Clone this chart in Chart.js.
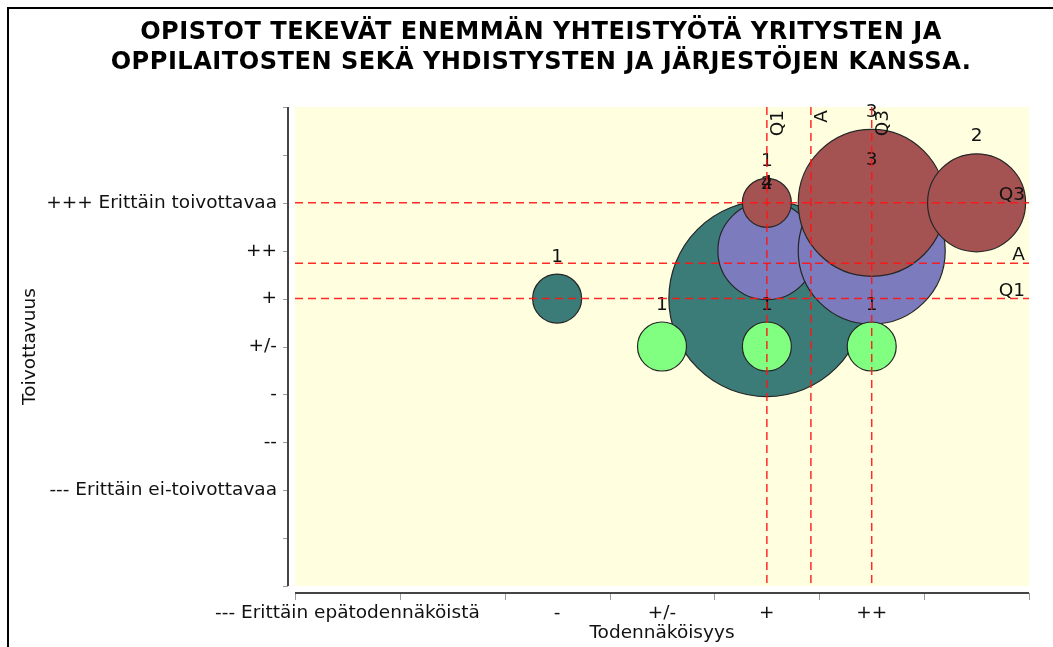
<!DOCTYPE html>
<html lang="fi">
<head>
<meta charset="utf-8">
<title>Opistot – yhteistyö</title>
<script src="https://cdn.jsdelivr.net/npm/chart.js@4/dist/chart.umd.min.js"></script>
<style>
  html, body { margin: 0; padding: 0; background: #fff; }
  #wrap { position: relative; width: 1053px; height: 647px; }
</style>
</head>
<body>
<div id="wrap"><canvas id="chart" width="1053" height="647"></canvas></div>
<script>
    "use strict";

    var titleLines = [
        'OPISTOT TEKEVÄT ENEMMÄN YHTEISTYÖTÄ YRITYSTEN JA',
        'OPPILAITOSTEN SEKÄ YHDISTYSTEN JA JÄRJESTÖJEN KANSSA.'
    ];
    var xTitle = 'Todennäköisyys';
    var yTitle = 'Toivottavuus';

    // tick labels for the levels 1..7 (blank where the picture shows none)
    var xTickLabels = ['--- Erittäin epätodennäköistä', '', '-', '+/-', '+', '++', ''];
    var yTickLabels = ['--- Erittäin ei-toivottavaa', '--', '-', '+/-', '+', '++', '+++ Erittäin toivottavaa'];

    // bubbles: level on each axis and number of answers
    var tealX = [3, 5];
    var tealY = [5, 5];
    var tealN = [1, 4];

    var purpleX = [5, 6];
    var purpleY = [6, 6];
    var purpleN = [2, 3];

    var redX = [5, 6, 7];
    var redY = [7, 7, 7];
    var redN = [1, 3, 2];

    var greenX = [4, 5, 6];
    var greenY = [4, 4, 4];
    var greenN = [1, 1, 1];

    // quartiles and average of both axes
    var markNames = ['Q1', 'A', 'Q3'];
    var markX = [5, 5.42, 6];
    var markY = [5, 5.74, 7];

    var RADIUS_PER_ANSWER = 24.5;
    var FONT = "'DejaVu Sans', 'Noto Sans', sans-serif";
    var TEXT_SIZE = 18.5;

    function points(xs, ys, ns) {
        return xs.map(function (x, i) {
            return {x: x, y: ys[i], n: ns[i]};
        });
    }

    // layer: higher numbers are drawn further down
    function bubbleSet(xs, ys, ns, color, layer) {
        return {
            data: points(xs, ys, ns),
            order: layer,
            backgroundColor: color,
            borderColor: '#262626',
            borderWidth: 1.2,
            radius: function (ctx) {
                return ctx.raw ? ctx.raw.n * RADIUS_PER_ANSWER : 0;
            }
        };
    }

    var backdrop = {
        id: 'backdrop',
        beforeDraw: function (chart) {
            var ctx = chart.ctx, a = chart.chartArea;
            ctx.save();
            ctx.fillStyle = '#ffffff';
            ctx.fillRect(0, 0, chart.width, chart.height);
            ctx.fillStyle = '#ffffe0';
            ctx.fillRect(a.left, a.top, a.right - a.left, a.bottom - a.top);
            // frame round the picture
            ctx.fillStyle = '#000000';
            ctx.fillRect(7, 7, chart.width - 7, 2);
            ctx.fillRect(7, 7, 2, chart.height - 7);
            ctx.restore();
        },
        afterDraw: function (chart) {
            var ctx = chart.ctx;
            ctx.save();
            ctx.fillStyle = '#000000';
            ctx.letterSpacing = '0.5px';
            // size the title so the first line is as wide as in the original
            var size = 22;
            ctx.font = 'bold ' + size + "px 'DejaVu Sans', sans-serif";
            size = size * 804 / ctx.measureText(titleLines[0]).width;
            ctx.font = 'bold ' + size.toFixed(2) + "px 'DejaVu Sans', sans-serif";
            ctx.textAlign = 'center';
            ctx.textBaseline = 'alphabetic';
            titleLines.forEach(function (line, i) {
                ctx.fillText(line, 541, 39 + i * 30);
            });
            ctx.restore();
        }
    };

    // axis lines sit a few pixels away from the plot area
    var offsetAxes = {
        id: 'offsetAxes',
        afterDraw: function (chart) {
            var ctx = chart.ctx, a = chart.chartArea;
            var xs = chart.scales.x, ys = chart.scales.y;
            var axisX = a.left - 7, axisY = a.bottom + 7;
            ctx.save();
            ctx.strokeStyle = '#9a9a9a';
            ctx.lineWidth = 1;
            for (var v = ys.min; v <= ys.max; v++) {
                var py = Math.round(ys.getPixelForValue(v)) + 0.5;
                ctx.beginPath();
                ctx.moveTo(axisX - 5, py);
                ctx.lineTo(axisX, py);
                ctx.stroke();
            }
            for (var b = xs.min; b <= xs.max; b++) {
                var px = Math.round(xs.getPixelForValue(b)) + 0.5;
                ctx.beginPath();
                ctx.moveTo(px, axisY);
                ctx.lineTo(px, axisY + 7);
                ctx.stroke();
            }
            ctx.strokeStyle = '#444444';
            ctx.lineWidth = 2;
            ctx.beginPath();
            ctx.moveTo(axisX, a.top);
            ctx.lineTo(axisX, a.bottom);
            ctx.stroke();
            ctx.beginPath();
            ctx.moveTo(a.left, axisY);
            ctx.lineTo(a.right, axisY);
            ctx.stroke();
            ctx.restore();
        }
    };

    var markers = {
        id: 'markers',
        afterDatasetsDraw: function (chart) {
            var ctx = chart.ctx, a = chart.chartArea;
            var xs = chart.scales.x, ys = chart.scales.y;
            ctx.save();
            ctx.font = TEXT_SIZE + 'px ' + FONT;
            ctx.fillStyle = '#111111';

            // answer counts above the bubbles
            ctx.textAlign = 'center';
            ctx.textBaseline = 'alphabetic';
            chart.data.datasets.forEach(function (ds, di) {
                chart.getDatasetMeta(di).data.forEach(function (el, i) {
                    var r = el.options.radius;
                    ctx.fillText(String(ds.data[i].n), el.x, el.y - r - 12.5);
                });
            });

            // dashed quartile / average lines
            ctx.beginPath();
            ctx.rect(a.left, a.top, a.right - a.left, a.bottom - a.top);
            ctx.clip();
            ctx.strokeStyle = 'rgba(255, 20, 20, 0.9)';
            ctx.lineWidth = 1.5;
            ctx.setLineDash([8, 5]);
            markX.forEach(function (v) {
                var px = xs.getPixelForValue(v);
                ctx.beginPath();
                ctx.moveTo(px, a.top);
                ctx.lineTo(px, a.bottom);
                ctx.stroke();
            });
            markY.forEach(function (v) {
                var py = ys.getPixelForValue(v);
                ctx.beginPath();
                ctx.moveTo(a.left, py);
                ctx.lineTo(a.right, py);
                ctx.stroke();
            });
            ctx.setLineDash([]);

            // their names
            ctx.textAlign = 'right';
            ctx.textBaseline = 'alphabetic';
            markY.forEach(function (v, i) {
                ctx.fillText(markNames[i], a.right - 4, ys.getPixelForValue(v) - 3);
            });
            markX.forEach(function (v, i) {
                ctx.save();
                ctx.translate(xs.getPixelForValue(v) + 2, a.top + 3);
                ctx.rotate(-Math.PI / 2);
                ctx.textAlign = 'right';
                ctx.textBaseline = 'top';
                ctx.fillText(markNames[i], 0, 0);
                ctx.restore();
            });
            ctx.restore();
        }
    };

    Chart.defaults.font.family = FONT;
    Chart.defaults.font.size = TEXT_SIZE;
    Chart.defaults.color = '#111111';

    var chart = new Chart(document.getElementById('chart'), {
        type: 'bubble',
        data: {
            datasets: [
                bubbleSet(tealX, tealY, tealN, '#3b7c79', 4),
                bubbleSet(purpleX, purpleY, purpleN, '#7b7bbe', 3),
                bubbleSet(redX, redY, redN, '#a55252', 2),
                bubbleSet(greenX, greenY, greenN, '#80ff80', 1)
            ]
        },
        options: {
            responsive: false,
            animation: false,
            events: [],
            layout: {
                autoPadding: false,
                padding: {top: 107, right: 24, bottom: 0, left: 0}
            },
            plugins: {
                legend: {display: false},
                title: {display: false},
                tooltip: {enabled: false}
            },
            scales: {
                x: {
                    type: 'linear',
                    min: 0.5,
                    max: 7.5,
                    grid: {display: false, drawTicks: false},
                    border: {display: false},
                    afterBuildTicks: function (scale) {
                        scale.ticks = xTickLabels.map(function (l, i) {
                            return {value: i + 1};
                        });
                    },
                    afterFit: function (scale) {
                        scale.height = 61;
                    },
                    ticks: {
                        autoSkip: false,
                        maxRotation: 0,
                        minRotation: 0,
                        padding: 16,
                        callback: function (value) {
                            return xTickLabels[value - 1] || '';
                        }
                    },
                    title: {
                        display: true,
                        text: xTitle,
                        padding: {top: 0, bottom: 3}
                    }
                },
                y: {
                    type: 'linear',
                    min: -1,
                    max: 9,
                    grid: {display: false, drawTicks: false},
                    border: {display: false},
                    afterFit: function (scale) {
                        scale.width = 295;
                    },
                    ticks: {
                        stepSize: 1,
                        padding: 18,
                        callback: function (value) {
                            return yTickLabels[value - 1] || '';
                        }
                    },
                    title: {
                        display: true,
                        text: yTitle,
                        padding: {top: 19, bottom: 0}
                    }
                }
            }
        },
        plugins: [backdrop, offsetAxes, markers]
    });
</script>
</body>
</html>
